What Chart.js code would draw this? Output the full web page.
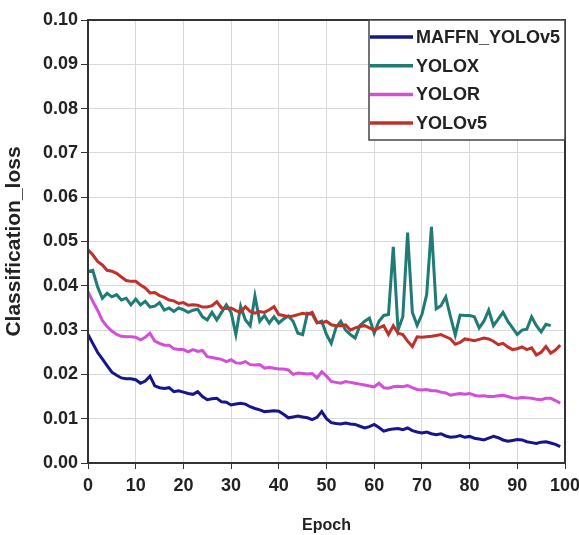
<!DOCTYPE html>
<html>
<head>
<meta charset="utf-8">
<script src="https://cdn.jsdelivr.net/npm/chart.js@4.4.1/dist/chart.umd.min.js"></script>
<style>
  html, body { margin: 0; padding: 0; background: #fff; }
  #wrap { width: 579px; height: 535px; position: relative; }
</style>
</head>
<body>
<div id="wrap"><canvas id="lossChart" width="579" height="535"></canvas></div>
<script>
// epochs 0..99
var epochs = Array.from({ length: 100 }, (_, i) => i);

var maffnLoss = [
    0.0290, 0.0270, 0.0250, 0.0235, 0.0220, 0.0205, 0.0198, 0.0192, 0.0190, 0.0190,
    0.0188, 0.0180, 0.0185, 0.0196, 0.0174, 0.0170, 0.0168, 0.0170, 0.0161, 0.0163,
    0.0160, 0.0157, 0.0155, 0.0161, 0.0150, 0.0143, 0.0145, 0.0146, 0.0138, 0.0137,
    0.0131, 0.0133, 0.0135, 0.0133, 0.0127, 0.0123, 0.0120, 0.0116, 0.0117, 0.0118,
    0.0117, 0.0110, 0.0102, 0.0104, 0.0106, 0.0104, 0.0102, 0.0098, 0.0103, 0.0116,
    0.0100, 0.0091, 0.0089, 0.0088, 0.0090, 0.0088, 0.0087, 0.0083, 0.0079, 0.0082,
    0.0087, 0.0080, 0.0072, 0.0075, 0.0077, 0.0078, 0.0075, 0.0079, 0.0073, 0.0070,
    0.0068, 0.0070, 0.0066, 0.0064, 0.0066, 0.0061, 0.0058, 0.0059, 0.0062, 0.0058,
    0.0060, 0.0056, 0.0054, 0.0052, 0.0056, 0.0060, 0.0057, 0.0052, 0.0049, 0.0051,
    0.0053, 0.0052, 0.0048, 0.0046, 0.0044, 0.0047, 0.0048, 0.0045, 0.0042, 0.0037
];

var yoloxLoss = [
    0.0432, 0.0435, 0.0398, 0.0372, 0.0383, 0.0375, 0.0380, 0.0368, 0.0372, 0.0357,
    0.0370, 0.0357, 0.0365, 0.0352, 0.0354, 0.0362, 0.0345, 0.0350, 0.0342, 0.0350,
    0.0346, 0.0340, 0.0345, 0.0347, 0.0330, 0.0323, 0.0340, 0.0323, 0.0340, 0.0357,
    0.0340, 0.0290, 0.0354, 0.0323, 0.0310, 0.0377, 0.0320, 0.0333, 0.0316, 0.0330,
    0.0316, 0.0325, 0.0332, 0.0320, 0.0293, 0.0290, 0.0338, 0.0336, 0.0316, 0.0320,
    0.0290, 0.0270, 0.0306, 0.0320, 0.0300, 0.0290, 0.0282, 0.0310, 0.0320, 0.0327,
    0.0293, 0.0320, 0.0333, 0.0335, 0.0488, 0.0300, 0.0330, 0.0520, 0.0340, 0.0311,
    0.0335, 0.0380, 0.0533, 0.0348, 0.0355, 0.0375, 0.0330, 0.0289, 0.0334, 0.0333,
    0.0333, 0.0330, 0.0305, 0.0320, 0.0345, 0.0310, 0.0325, 0.0340, 0.0320, 0.0305,
    0.0290, 0.0300, 0.0302, 0.0330, 0.0310, 0.0296, 0.0313, 0.0310
];

var yolorLoss = [
    0.0387, 0.0365, 0.0345, 0.0322, 0.0308, 0.0298, 0.0290, 0.0286, 0.0285, 0.0285,
    0.0284, 0.0278, 0.0284, 0.0293, 0.0275, 0.0270, 0.0266, 0.0266, 0.0258, 0.0256,
    0.0256, 0.0251, 0.0256, 0.0252, 0.0254, 0.0240, 0.0238, 0.0236, 0.0234, 0.0229,
    0.0233, 0.0226, 0.0225, 0.0229, 0.0222, 0.0221, 0.0222, 0.0214, 0.0216, 0.0214,
    0.0212, 0.0212, 0.0210, 0.0200, 0.0203, 0.0202, 0.0201, 0.0202, 0.0192, 0.0206,
    0.0196, 0.0184, 0.0182, 0.0180, 0.0184, 0.0182, 0.0180, 0.0178, 0.0176, 0.0174,
    0.0172, 0.0180, 0.0170, 0.0169, 0.0172, 0.0173, 0.0172, 0.0175, 0.0170, 0.0166,
    0.0165, 0.0166, 0.0163, 0.0163, 0.0160, 0.0158, 0.0153, 0.0155, 0.0157, 0.0155,
    0.0157, 0.0153, 0.0151, 0.0152, 0.0150, 0.0150, 0.0152, 0.0153, 0.0150, 0.0147,
    0.0146, 0.0148, 0.0147, 0.0146, 0.0144, 0.0143, 0.0146, 0.0146, 0.0141, 0.0135
];

var yolov5Loss = [
    0.0481, 0.0470, 0.0455, 0.0447, 0.0435, 0.0433, 0.0428, 0.0420, 0.0412, 0.0410,
    0.0410, 0.0402, 0.0395, 0.0384, 0.0385, 0.0378, 0.0374, 0.0368, 0.0366, 0.0360,
    0.0362, 0.0356, 0.0357, 0.0356, 0.0352, 0.0352, 0.0355, 0.0364, 0.0350, 0.0349,
    0.0350, 0.0344, 0.0340, 0.0353, 0.0342, 0.0338, 0.0342, 0.0340, 0.0346, 0.0353,
    0.0335, 0.0333, 0.0330, 0.0332, 0.0335, 0.0338, 0.0336, 0.0340, 0.0318, 0.0316,
    0.0320, 0.0312, 0.0310, 0.0310, 0.0312, 0.0300, 0.0305, 0.0308, 0.0310, 0.0305,
    0.0300, 0.0305, 0.0310, 0.0290, 0.0310, 0.0293, 0.0290, 0.0275, 0.0263, 0.0285,
    0.0284, 0.0285, 0.0286, 0.0288, 0.0290, 0.0285, 0.0280, 0.0268, 0.0272, 0.0280,
    0.0278, 0.0276, 0.0279, 0.0282, 0.0280, 0.0275, 0.0267, 0.0270, 0.0262, 0.0256,
    0.0258, 0.0262, 0.0256, 0.0260, 0.0244, 0.0250, 0.0263, 0.0248, 0.0255, 0.0266
];

var seriesNames = ['MAFFN_YOLOv5', 'YOLOX', 'YOLOR', 'YOLOv5'];
var seriesColors = ['#16168a', '#1f7b74', '#d24fd6', '#c1302b'];
var yTicks = [0.00, 0.01, 0.02, 0.03, 0.04, 0.05, 0.06, 0.07, 0.08, 0.09, 0.10];
var xTicks = [0, 10, 20, 30, 40, 50, 60, 70, 80, 90, 100];

var fontFamily = '"Liberation Sans", Arial, sans-serif';

function toPoints(vals) {
    return vals.map((v, i) => ({ x: epochs[i], y: v }));
}

var allSeries = [maffnLoss, yoloxLoss, yolorLoss, yolov5Loss];
// red goes down first, teal sits on top of it
var drawOrder = [3, 2, 1, 0];

var datasets = allSeries.map(function (vals, i) {
    return {
        label: seriesNames[i],
        data: toPoints(vals),
        borderColor: seriesColors[i],
        backgroundColor: seriesColors[i],
        borderWidth: 3,
        pointRadius: 0,
        tension: 0,
        fill: false,
        order: drawOrder[i]
    };
});

// frame round the plot area + legend box inside top-right
var framePlugin = {
    id: 'framePlugin',
    afterDraw: function (chart) {
        var ctx = chart.ctx;
        var a = chart.chartArea;
        ctx.save();
        ctx.strokeStyle = '#333';
        ctx.lineWidth = 2;
        ctx.strokeRect(a.left, a.top, a.right - a.left, a.bottom - a.top);

        // legend
        var boxLeft = 369, boxTop = a.top, boxRight = a.right, boxBottom = 140;
        ctx.fillStyle = '#fff';
        ctx.fillRect(boxLeft, boxTop, boxRight - boxLeft, boxBottom - boxTop);
        ctx.strokeStyle = '#444';
        ctx.lineWidth = 1.5;
        ctx.strokeRect(boxLeft, boxTop, boxRight - boxLeft, boxBottom - boxTop);
        ctx.font = 'bold 18px ' + fontFamily;
        ctx.textBaseline = 'middle';
        ctx.textAlign = 'left';
        for (var i = 0; i < seriesNames.length; i++) {
            var yy = 37 + i * 28.7;
            ctx.strokeStyle = seriesColors[i];
            ctx.lineWidth = 3.5;
            ctx.beginPath();
            ctx.moveTo(370, yy);
            ctx.lineTo(413, yy);
            ctx.stroke();
            ctx.fillStyle = '#222';
            ctx.fillText(seriesNames[i], 416, yy + 1);
        }
        ctx.restore();
    }
};

var ctx = document.getElementById('lossChart').getContext('2d');
var lossChart = new Chart(ctx, {
    type: 'line',
    data: { datasets: datasets },
    options: {
        responsive: false,
        animation: false,
        layout: { padding: { left: 0, top: 20, right: 14, bottom: 0 } },
        plugins: {
            legend: { display: false },
            tooltip: { enabled: false }
        },
        scales: {
            x: {
                type: 'linear',
                min: 0,
                max: 100,
                afterBuildTicks: function (scale) {
                    scale.ticks = xTicks.map(v => ({ value: v }));
                },
                afterFit: function (scale) {
                    scale.height = 72;
                    // let "100" run off the right edge like the source image
                    scale.paddingLeft = 0;
                    scale.paddingRight = 0;
                },
                grid: { color: '#d9d9d9', lineWidth: 1, tickLength: 6, tickColor: '#333' },
                border: { color: '#333', width: 2 },
                ticks: {
                    color: '#222',
                    padding: 6,
                    font: { family: fontFamily, size: 18, weight: 'bold' }
                },
                title: {
                    display: true,
                    text: 'Epoch',
                    color: '#222',
                    padding: { top: 8, bottom: 0 },
                    font: { family: fontFamily, size: 16, weight: 'bold' }
                }
            },
            y: {
                min: 0,
                max: 0.10,
                afterBuildTicks: function (scale) {
                    scale.ticks = yTicks.map(v => ({ value: v }));
                },
                afterFit: function (scale) {
                    scale.width = 88;
                    scale.paddingTop = 0;
                    scale.paddingBottom = 0;
                },
                grid: { color: '#d9d9d9', lineWidth: 1, tickLength: 7, tickColor: '#333' },
                border: { color: '#333', width: 2 },
                ticks: {
                    color: '#222',
                    padding: 3,
                    callback: function (v) { return v.toFixed(2); },
                    font: { family: fontFamily, size: 18, weight: 'bold' }
                },
                title: {
                    display: true,
                    text: 'Classification_loss',
                    color: '#222',
                    padding: { top: 2, bottom: 0 },
                    font: { family: fontFamily, size: 21, weight: 'bold' }
                }
            }
        }
    },
    plugins: [framePlugin]
});
</script>
</body>
</html>
